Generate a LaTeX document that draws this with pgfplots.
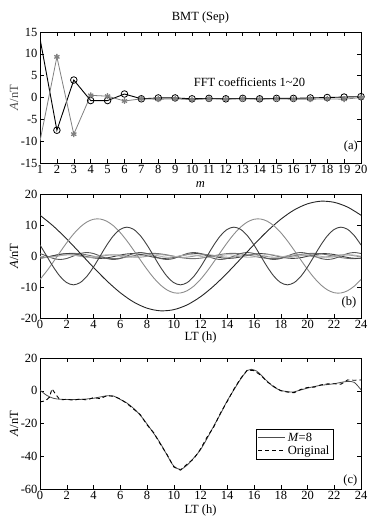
\documentclass[border=0pt]{standalone}
\usepackage{pgfplots}
\pgfplotsset{compat=1.18}
\usepackage{fontspec}
\setmainfont{Liberation Serif}
\newcommand\ff{\fontsize{12.5}{14.5}\selectfont}
\pgfplotsset{
  /pgf/number format/assume math mode=true,
  every axis/.append style={scale only axis, width=321pt, anchor=south west,
    font=\ff,
    tick label style={font=\ff}, label style={font=\ff}, title style={font=\ff},
    axis line style={line width=0.6pt}, tick style={line width=0.5pt, black},
    major tick length=4pt,
    xticklabel style={yshift=1.5pt},
    yticklabel style={xshift=1pt}},
  every axis y label/.style={at={(axis description cs:0,0.5)}, xshift=-26pt, rotate=90, anchor=center},
  every axis x label/.style={at={(axis description cs:0.5,0)}, yshift=-19pt, anchor=center}}
\begin{document}
\begin{tikzpicture}
\path[use as bounding box] (0,0) rectangle (380pt,523pt);
% ---------- (a)
\begin{axis}[at={(40pt,360pt)}, height=131pt,
  xmin=1, xmax=20, ymin=-15, ymax=15,
  xtick={1,...,20}, ytick={-15,-10,...,15},
  title={BMT (Sep)}, title style={yshift=-1pt},
  xlabel={\textit{m}}, xlabel style={yshift=-2.5pt, inner sep=0pt}, ylabel={\textit{A}/nT},
  ylabel style={text=black!70}]
\addplot[black, line width=0.9pt, mark=o, mark size=3.3pt, mark phase=2,
  mark options={line width=0.8pt}] coordinates {
(1,13.5)(2,-7.5)(3,4.0)(4,-0.7)(5,-0.7)(6,0.8)(7,-0.3)(8,-0.1)(9,-0.1)(10,-0.3)
(11,-0.2)(12,-0.3)(13,-0.2)(14,-0.3)(15,-0.2)(16,-0.2)(17,-0.1)(18,0.0)(19,0.1)(20,0.2)};
\addplot[black!50, line width=0.8pt, mark=asterisk, mark size=3pt, mark phase=2,
  mark options={line width=1.3pt}] coordinates {
(1,-10.0)(2,9.3)(3,-8.4)(4,0.5)(5,0.3)(6,-0.8)(7,-0.3)(8,-0.4)(9,-0.3)(10,-0.5)
(11,-0.3)(12,-0.4)(13,-0.3)(14,-0.4)(15,-0.3)(16,-0.4)(17,-0.4)(18,-0.3)(19,-0.4)(20,0.0)};
\node[font=\ff] at (axis cs:13.4,3.5) {FFT coefficients 1\char`~20};
\node[font=\ff] at (axis cs:19.4,-11.3) {(a)};
\end{axis}
% ---------- (b)
\begin{axis}[at={(40pt,205pt)}, height=124pt,
  xmin=0, xmax=24, ymin=-20, ymax=20,
  xtick={0,2,...,24}, ytick={-20,-10,0,10,20},
  xlabel={LT (h)}, ylabel={\textit{A}/nT}]
% m=4
\addplot[black!55, line width=0.9pt, smooth] coordinates {
(0,-0.70)(0.5,-0.36)(1,0.08)(1.5,0.50)(2,0.78)(2.5,0.86)(3,0.70)(3.5,0.36)(4,-0.08)(4.5,-0.50)(5,-0.78)(5.5,-0.86)
(6,-0.70)(6.5,-0.36)(7,0.08)(7.5,0.50)(8,0.78)(8.5,0.86)(9,0.70)(9.5,0.36)(10,-0.08)(10.5,-0.50)(11,-0.78)(11.5,-0.86)
(12,-0.70)(12.5,-0.36)(13,0.08)(13.5,0.50)(14,0.78)(14.5,0.86)(15,0.70)(15.5,0.36)(16,-0.08)(16.5,-0.50)(17,-0.78)(17.5,-0.86)
(18,-0.70)(18.5,-0.36)(19,0.08)(19.5,0.50)(20,0.78)(20.5,0.86)(21,0.70)(21.5,0.36)(22,-0.08)(22.5,-0.50)(23,-0.78)(23.5,-0.86)(24,-0.70)};
% m=5
\addplot[black!75, line width=0.9pt, smooth] coordinates {
(0,-0.70)(0.4,-0.46)(0.8,-0.09)(1.2,0.30)(1.6,0.61)(2,0.76)(2.4,0.70)(2.8,0.46)(3.2,0.09)(3.6,-0.30)(4,-0.61)(4.4,-0.76)
(4.8,-0.70)(5.2,-0.46)(5.6,-0.09)(6,0.30)(6.4,0.61)(6.8,0.76)(7.2,0.70)(7.6,0.46)(8,0.09)(8.4,-0.30)(8.8,-0.61)(9.2,-0.76)
(9.6,-0.70)(10,-0.46)(10.4,-0.09)(10.8,0.30)(11.2,0.61)(11.6,0.76)(12,0.70)(12.4,0.46)(12.8,0.09)(13.2,-0.30)(13.6,-0.61)(14,-0.76)
(14.4,-0.70)(14.8,-0.46)(15.2,-0.09)(15.6,0.30)(16,0.61)(16.4,0.76)(16.8,0.70)(17.2,0.46)(17.6,0.09)(18,-0.30)(18.4,-0.61)(18.8,-0.76)
(19.2,-0.70)(19.6,-0.46)(20,-0.09)(20.4,0.30)(20.8,0.61)(21.2,0.76)(21.6,0.70)(22,0.46)(22.4,0.09)(22.8,-0.30)(23.2,-0.61)(23.6,-0.76)(24,-0.70)};
% m=6
\addplot[black!65, line width=0.9pt, smooth] coordinates {
(0,0.80)(0.5,0)(1,-0.80)(1.5,-1.13)(2,-0.80)(2.5,0)(3,0.80)(3.5,1.13)
(4,0.80)(4.5,0)(5,-0.80)(5.5,-1.13)(6,-0.80)(6.5,0)(7,0.80)(7.5,1.13)
(8,0.80)(8.5,0)(9,-0.80)(9.5,-1.13)(10,-0.80)(10.5,0)(11,0.80)(11.5,1.13)
(12,0.80)(12.5,0)(13,-0.80)(13.5,-1.13)(14,-0.80)(14.5,0)(15,0.80)(15.5,1.13)
(16,0.80)(16.5,0)(17,-0.80)(17.5,-1.13)(18,-0.80)(18.5,0)(19,0.80)(19.5,1.13)
(20,0.80)(20.5,0)(21,-0.80)(21.5,-1.13)(22,-0.80)(22.5,0)(23,0.80)(23.5,1.13)(24,0.80)};
% m=7
\addplot[black!40, line width=0.9pt, smooth] coordinates {
(0,-0.30)(0.571,-0.41)(1.143,-0.11)(1.714,0.30)(2.286,0.41)(2.857,0.11)
(3.429,-0.30)(4.000,-0.41)(4.571,-0.11)(5.143,0.30)(5.714,0.41)(6.286,0.11)
(6.857,-0.30)(7.429,-0.41)(8.000,-0.11)(8.571,0.30)(9.143,0.41)(9.714,0.11)
(10.286,-0.30)(10.857,-0.41)(11.429,-0.11)(12.000,0.30)(12.571,0.41)(13.143,0.11)
(13.714,-0.30)(14.286,-0.41)(14.857,-0.11)(15.429,0.30)(16.000,0.41)(16.571,0.11)
(17.143,-0.30)(17.714,-0.41)(18.286,-0.11)(18.857,0.30)(19.429,0.41)(20.000,0.11)
(20.571,-0.30)(21.143,-0.41)(21.714,-0.11)(22.286,0.30)(22.857,0.41)(23.429,0.11)(24.000,-0.30)};
% m=8
\addplot[black!30, line width=0.9pt, smooth] coordinates {
(0,-0.10)(0.5,-0.40)(1,-0.30)(1.5,0.10)(2,0.40)(2.5,0.30)
(3,-0.10)(3.5,-0.40)(4,-0.30)(4.5,0.10)(5,0.40)(5.5,0.30)
(6,-0.10)(6.5,-0.40)(7,-0.30)(7.5,0.10)(8,0.40)(8.5,0.30)
(9,-0.10)(9.5,-0.40)(10,-0.30)(10.5,0.10)(11,0.40)(11.5,0.30)
(12,-0.10)(12.5,-0.40)(13,-0.30)(13.5,0.10)(14,0.40)(14.5,0.30)
(15,-0.10)(15.5,-0.40)(16,-0.30)(16.5,0.10)(17,0.40)(17.5,0.30)
(18,-0.10)(18.5,-0.40)(19,-0.30)(19.5,0.10)(20,0.40)(20.5,0.30)
(21,-0.10)(21.5,-0.40)(22,-0.30)(22.5,0.10)(23,0.40)(23.5,0.30)(24,-0.10)};
% m=1
\addplot[black!85, line width=0.9pt, smooth] coordinates {
(0,13.15)(1,9.64)(2,5.47)(3,0.93)(4,-3.68)(5,-8.04)(6,-11.84)(7,-14.85)(8,-16.83)(9,-17.68)
(10,-17.31)(11,-15.77)(12,-13.15)(13,-9.64)(14,-5.47)(15,-0.93)(16,3.68)(17,8.04)(18,11.84)
(19,14.85)(20,16.83)(21,17.68)(22,17.31)(23,15.77)(24,13.15)};
% m=2
\addplot[black!45, line width=0.9pt, smooth] coordinates {
(0,-7.55)(0.5,-4.88)(1,-1.88)(1.5,1.25)(2,4.30)(2.5,7.05)(3,9.33)(3.5,10.96)(4,11.85)(4.5,11.93)(5,11.20)(5.5,9.71)(6,7.55)(6.5,4.88)(7,1.88)(7.5,-1.25)(8,-4.30)(8.5,-7.05)(9,-9.33)(9.5,-10.96)(10,-11.85)(10.5,-11.93)(11,-11.20)(11.5,-9.71)
(12,-7.55)(12.5,-4.88)(13,-1.88)(13.5,1.25)(14,4.30)(14.5,7.05)(15,9.33)(15.5,10.96)(16,11.85)(16.5,11.93)(17,11.20)(17.5,9.71)(18,7.55)(18.5,4.88)(19,1.88)(19.5,-1.25)(20,-4.30)(20.5,-7.05)(21,-9.33)(21.5,-10.96)(22,-11.85)(22.5,-11.93)(23,-11.20)(23.5,-9.71)(24,-7.55)};
% m=3
\addplot[black!75, line width=0.9pt, smooth] coordinates {
(0,3.56)(0.5,0)(1,-3.56)(1.5,-6.58)(2,-8.59)(2.5,-9.30)(3,-8.59)(3.5,-6.58)(4,-3.56)(4.5,0)(5,3.56)(5.5,6.58)(6,8.59)(6.5,9.30)(7,8.59)(7.5,6.58)
(8,3.56)(8.5,0)(9,-3.56)(9.5,-6.58)(10,-8.59)(10.5,-9.30)(11,-8.59)(11.5,-6.58)(12,-3.56)(12.5,0)(13,3.56)(13.5,6.58)(14,8.59)(14.5,9.30)(15,8.59)(15.5,6.58)
(16,3.56)(16.5,0)(17,-3.56)(17.5,-6.58)(18,-8.59)(18.5,-9.30)(19,-8.59)(19.5,-6.58)(20,-3.56)(20.5,0)(21,3.56)(21.5,6.58)(22,8.59)(22.5,9.30)(23,8.59)(23.5,6.58)(24,3.56)};
\node[font=\ff] at (axis cs:23.1,-15) {(b)};
\end{axis}
% ---------- (c)
\begin{axis}[at={(40pt,34pt)}, height=131pt,
  xmin=0, xmax=24, ymin=-60, ymax=20,
  xtick={0,2,...,24}, ytick={-60,-40,-20,0,20},
  xlabel={LT (h)}, xlabel style={yshift=-2pt}, ylabel={\textit{A}/nT},
  legend style={at={(0.673,0.458)}, anchor=north west, draw=black, line width=0.6pt,
    font=\ff, inner sep=1.5pt, row sep=-1pt},
  legend cell align=left,
  legend image code/.code={\draw[#1] (0cm,0cm) -- (0.95cm,0cm);}]
\addplot[black!70, line width=0.8pt, smooth] coordinates {
(0,0.4)(0.5,-2.8)(1,-4.6)(1.5,-5.2)(2,-5.3)(2.5,-5.3)(3,-5.3)(3.5,-5.0)(4,-4.6)(4.5,-3.8)(5,-3.1)(5.5,-3.2)
(6,-5.3)(6.5,-7.5)(7,-10.8)(7.5,-15.0)(8,-20.3)(8.5,-26.0)(9,-32.1)(9.5,-39.3)(10,-46.0)(10.5,-48.0)(11,-45.4)
(11.5,-41.0)(12,-36.0)(12.5,-29.0)(13,-21.4)(13.5,-14.0)(14,-6.1)(14.5,0.6)(15,7.1)(15.5,12.4)(15.8,13.1)(16.2,12.0)
(16.5,9.8)(17,5.7)(17.5,2.2)(18,0.2)(18.5,-0.5)(18.9,-0.8)(19.5,0.5)(20,1.6)(20.5,2.6)(21,3.3)(21.5,3.8)(22,4.3)
(22.5,5.1)(23,5.7)(23.5,5.1)(24,0.6)};
\addlegendentry{\textit{M}=8}
\addplot[black, line width=0.9pt, dash pattern=on 4pt off 3pt] coordinates {
(0,-6.8)(0.4,-6.2)(0.7,-4.0)(0.9,1.2)(1.2,-2.5)(1.5,-5.6)(2,-5.2)(2.5,-5.8)(3,-5.0)(3.5,-5.6)(4,-4.2)(4.5,-4.8)
(5,-3.0)(5.5,-3.4)(6,-5.0)(6.5,-7.8)(7,-11.2)(7.5,-14.6)(8,-20.8)(8.5,-25.6)(9,-32.6)(9.5,-39.0)(10,-46.5)
(10.5,-48.5)(11,-44.8)(11.5,-41.5)(12,-35.6)(12.5,-28.2)(13,-22.0)(13.5,-13.5)(14,-6.5)(14.5,1.0)(15,7.5)
(15.5,12.6)(16,12.3)(16.5,9.5)(17,5.4)(17.5,2.5)(18,0.0)(18.5,-0.8)(19,-1.2)(19.5,0.8)(20,2.0)(20.5,2.2)
(21,3.6)(21.5,4.2)(22,4.3)(22.5,4.0)(23,6.6)(23.5,6.4)(24,6.6)};
\addlegendentry{Original}
\node[font=\ff] at (axis cs:23.2,-54.5) {(c)};
\end{axis}
\end{tikzpicture}
\end{document}
